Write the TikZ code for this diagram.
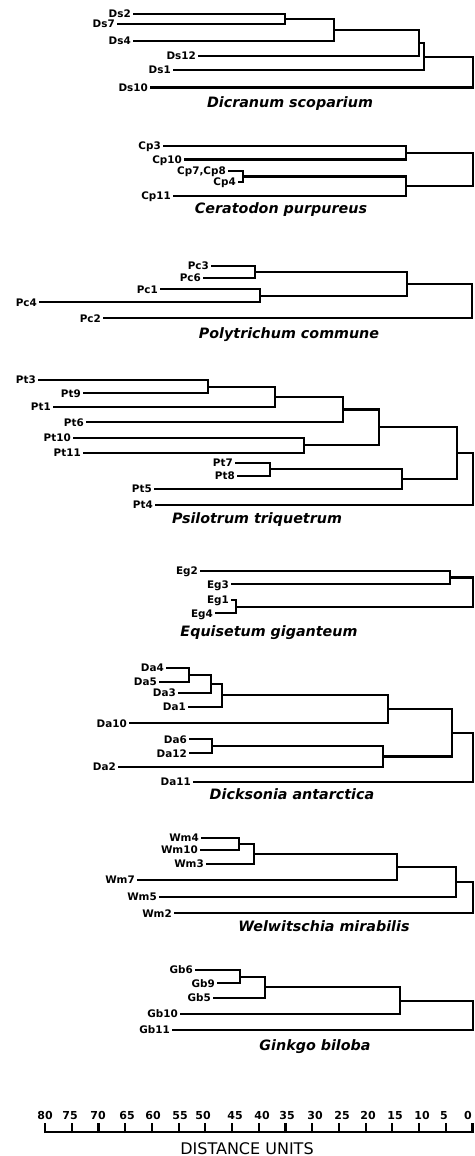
\documentclass[tikz,border=0pt]{standalone}
\usepackage{fontspec}
\newfontfamily\dv{DejaVu Sans}
\begin{document}
\begin{tikzpicture}[x=1pt,y=-1pt,
  lab/.style={font=\dv\bfseries\fontsize{10.4}{12}\selectfont, anchor=east, inner xsep=2pt, inner ysep=0pt, text height=7.5pt, text depth=0pt},
  ttl/.style={font=\dv\bfseries\itshape\fontsize{14.3}{16}\selectfont, anchor=base, inner sep=0pt},
  axl/.style={font=\dv\bfseries\fontsize{11}{13}\selectfont, anchor=base, inner sep=0pt},
  axt/.style={font=\dv\fontsize{16}{18}\selectfont, anchor=base, inner sep=0pt},
  br/.style={line width=2.2pt},
  tk/.style={line width=2.2pt}
]
\useasboundingbox (0,0) rectangle (474,1156);

% ---------------- Dicranum scoparium
\node[lab] (Ds2) at (133,14) {Ds2};
\node[lab] (Ds7) at (117,24) {Ds7};
\node[lab] (Ds4) at (133,41) {Ds4};
\node[lab] (Ds12) at (198,56) {Ds12};
\node[lab] (Ds1) at (173,70) {Ds1};
\node[lab] (Ds10) at (150,87.5) {Ds10};
\coordinate (d1) at (285,19);
\coordinate (d2) at (334,30);
\coordinate (d3) at (419,43);
\coordinate (d4) at (424,57);
\coordinate (d5) at (472.7,72);
\draw[br] (Ds2.east) -| (d1);
\draw[br] (Ds7.east) -| (d1);
\draw[br] (d1) -| (d2);
\draw[br] (Ds4.east) -| (d2);
\draw[br] (d2) -| (d3);
\draw[br] (Ds12.east) -| (d3);
\draw[br] (d3) -| (d4);
\draw[br] (Ds1.east) -| (d4);
\draw[br] (d4) -| (d5);
\draw[br] (Ds10.east) -| (d5);
\node[ttl] (tDs) at (290,107) {Dicranum scoparium};

% ---------------- Ceratodon purpureus
\node[lab] (Cp3) at (163,146) {Cp3};
\node[lab] (Cp10) at (184,159.5) {Cp10};
\node[lab] (Cp78) at (228,171) {Cp7,Cp8};
\node[lab] (Cp4) at (238,182) {Cp4};
\node[lab] (Cp11) at (173,195.7) {Cp11};
\coordinate (c1) at (406,153);
\coordinate (c2) at (243,176.5);
\coordinate (c3) at (406,186);
\coordinate (c4) at (472.7,170);
\draw[br] (Cp3.east) -| (c1);
\draw[br] (Cp10.east) -| (c1);
\draw[br] (Cp78.east) -| (c2);
\draw[br] (Cp4.east) -| (c2);
\draw[br] (c2) -| (c3);
\draw[br] (Cp11.east) -| (c3);
\draw[br] (c1) -| (c4);
\draw[br] (c3) -| (c4);
\node[ttl] (tCp) at (281,213) {Ceratodon purpureus};

% ---------------- Polytrichum commune
\node[lab] (Pc3) at (211,265.7) {Pc3};
\node[lab] (Pc6) at (203,277.7) {Pc6};
\node[lab] (Pc1) at (160,289.3) {Pc1};
\node[lab] (Pc4) at (39,302.3) {Pc4};
\node[lab] (Pc2) at (103,318.3) {Pc2};
\coordinate (p1) at (255,271.7);
\coordinate (p2) at (260,296);
\coordinate (p3) at (407,284);
\coordinate (p4) at (472,300);
\draw[br] (Pc3.east) -| (p1);
\draw[br] (Pc6.east) -| (p1);
\draw[br] (Pc1.east) -| (p2);
\draw[br] (Pc4.east) -| (p2);
\draw[br] (p1) -| (p3);
\draw[br] (p2) -| (p3);
\draw[br] (p3) -| (p4);
\draw[br] (Pc2.east) -| (p4);
\node[ttl] (tPc) at (289,338) {Polytrichum commune};

% ---------------- Psilotrum triquetrum
\node[lab] (Pt3) at (38,380) {Pt3};
\node[lab] (Pt9) at (83,393.3) {Pt9};
\node[lab] (Pt1) at (53,406.7) {Pt1};
\node[lab] (Pt6) at (86,422.3) {Pt6};
\node[lab] (Pt10) at (73,437.7) {Pt10};
\node[lab] (Pt11) at (83,452.7) {Pt11};
\node[lab] (Pt7) at (235,462.7) {Pt7};
\node[lab] (Pt8) at (237,475.7) {Pt8};
\node[lab] (Pt5) at (154,489) {Pt5};
\node[lab] (Pt4) at (155,505) {Pt4};
\coordinate (t1) at (208,386.7);
\coordinate (t2) at (275,396.7);
\coordinate (t3) at (343,409.5);
\coordinate (t4) at (304,445.2);
\coordinate (t5) at (379,427.3);
\coordinate (t6) at (270,469.2);
\coordinate (t7) at (402,479);
\coordinate (t8) at (457,453);
\coordinate (t9) at (472.7,479);
\draw[br] (Pt3.east) -| (t1);
\draw[br] (Pt9.east) -| (t1);
\draw[br] (t1) -| (t2);
\draw[br] (Pt1.east) -| (t2);
\draw[br] (t2) -| (t3);
\draw[br] (Pt6.east) -| (t3);
\draw[br] (Pt10.east) -| (t4);
\draw[br] (Pt11.east) -| (t4);
\draw[br] (t3) -| (t5);
\draw[br] (t4) -| (t5);
\draw[br] (Pt7.east) -| (t6);
\draw[br] (Pt8.east) -| (t6);
\draw[br] (t6) -| (t7);
\draw[br] (Pt5.east) -| (t7);
\draw[br] (t5) -| (t8);
\draw[br] (t7) -| (t8);
\draw[br] (t8) -| (t9);
\draw[br] (Pt4.east) -| (t9);
\node[ttl] (tPt) at (257,523) {Psilotrum triquetrum};

% ---------------- Equisetum giganteum
\node[lab] (Eg2) at (200,570.7) {Eg2};
\node[lab] (Eg3) at (231,584.3) {Eg3};
\node[lab] (Eg1) at (231,600) {Eg1};
\node[lab] (Eg4) at (215,613.3) {Eg4};
\coordinate (e1) at (450,577.5);
\coordinate (e2) at (236,606.7);
\coordinate (e3) at (472.7,592);
\draw[br] (Eg2.east) -| (e1);
\draw[br] (Eg3.east) -| (e1);
\draw[br] (Eg1.east) -| (e2);
\draw[br] (Eg4.east) -| (e2);
\draw[br] (e1) -| (e3);
\draw[br] (e2) -| (e3);
\node[ttl] (tEg) at (269,636) {Equisetum giganteum};

% ---------------- Dicksonia antarctica
\node[lab] (Da4) at (166,667.7) {Da4};
\node[lab] (Da5) at (159,681.7) {Da5};
\node[lab] (Da3) at (178,692.7) {Da3};
\node[lab] (Da1) at (188,706.7) {Da1};
\node[lab] (Da10) at (129,723.3) {Da10};
\node[lab] (Da6) at (189,739.3) {Da6};
\node[lab] (Da12) at (189,753.3) {Da12};
\node[lab] (Da2) at (118,766.7) {Da2};
\node[lab] (Da11) at (193,781.7) {Da11};
\coordinate (a1) at (189,674.7);
\coordinate (a2) at (211,683.7);
\coordinate (a3) at (222,695.2);
\coordinate (a4) at (388,709.3);
\coordinate (a5) at (212,746.3);
\coordinate (a6) at (383,756.5);
\coordinate (a7) at (452,733);
\coordinate (a8) at (472.7,757);
\draw[br] (Da4.east) -| (a1);
\draw[br] (Da5.east) -| (a1);
\draw[br] (a1) -| (a2);
\draw[br] (Da3.east) -| (a2);
\draw[br] (a2) -| (a3);
\draw[br] (Da1.east) -| (a3);
\draw[br] (a3) -| (a4);
\draw[br] (Da10.east) -| (a4);
\draw[br] (Da6.east) -| (a5);
\draw[br] (Da12.east) -| (a5);
\draw[br] (a5) -| (a6);
\draw[br] (Da2.east) -| (a6);
\draw[br] (a4) -| (a7);
\draw[br] (a6) -| (a7);
\draw[br] (a7) -| (a8);
\draw[br] (Da11.east) -| (a8);
\node[ttl] (tDa) at (292,799) {Dicksonia antarctica};

% ---------------- Welwitschia mirabilis
\node[lab] (Wm4) at (201,837.7) {Wm4};
\node[lab] (Wm10) at (200,850) {Wm10};
\node[lab] (Wm3) at (206,864) {Wm3};
\node[lab] (Wm7) at (137,880) {Wm7};
\node[lab] (Wm5) at (159,896.7) {Wm5};
\node[lab] (Wm2) at (174,913.3) {Wm2};
\coordinate (w1) at (239,843.9);
\coordinate (w2) at (254,854);
\coordinate (w3) at (397,867);
\coordinate (w4) at (456,882);
\coordinate (w5) at (472.7,897);
\draw[br] (Wm4.east) -| (w1);
\draw[br] (Wm10.east) -| (w1);
\draw[br] (w1) -| (w2);
\draw[br] (Wm3.east) -| (w2);
\draw[br] (w2) -| (w3);
\draw[br] (Wm7.east) -| (w3);
\draw[br] (w3) -| (w4);
\draw[br] (Wm5.east) -| (w4);
\draw[br] (w4) -| (w5);
\draw[br] (Wm2.east) -| (w5);
\node[ttl] (tWm) at (324,931) {Welwitschia mirabilis};

% ---------------- Ginkgo biloba
\node[lab] (Gb6) at (195,970) {Gb6};
\node[lab] (Gb9) at (217,983.3) {Gb9};
\node[lab] (Gb5) at (213,997.7) {Gb5};
\node[lab] (Gb10) at (180,1014) {Gb10};
\node[lab] (Gb11) at (172,1030) {Gb11};
\coordinate (g1) at (240,976.7);
\coordinate (g2) at (265,987.2);
\coordinate (g3) at (400,1000.6);
\coordinate (g4) at (472.7,1015);
\draw[br] (Gb6.east) -| (g1);
\draw[br] (Gb9.east) -| (g1);
\draw[br] (g1) -| (g2);
\draw[br] (Gb5.east) -| (g2);
\draw[br] (g2) -| (g3);
\draw[br] (Gb10.east) -| (g3);
\draw[br] (g3) -| (g4);
\draw[br] (Gb11.east) -| (g4);
\node[ttl] (tGb) at (315,1050) {Ginkgo biloba};

% ---------------- scale
\coordinate (ax0) at (44,1132);
\coordinate (ax1) at (473.2,1132);
\draw[br] (ax0) -- (ax1);
\foreach \i in {0,...,16} {
  \pgfmathsetmacro{\xx}{45+\i*26.72}
  \draw[tk] (\xx,1133) -- (\xx,1123);
}
\foreach \v/\xx in {80/45,75/70,70/98,65/127,60/153,55/180,50/203,45/235,40/262,35/287,30/315,25/342,20/368,15/395,10/422,5/444,0/468} {
  \node[axl] at (\xx,1119.5) {\v};
}
\node[axt] (du) at (247,1154) {DISTANCE UNITS};
\end{tikzpicture}
\end{document}
